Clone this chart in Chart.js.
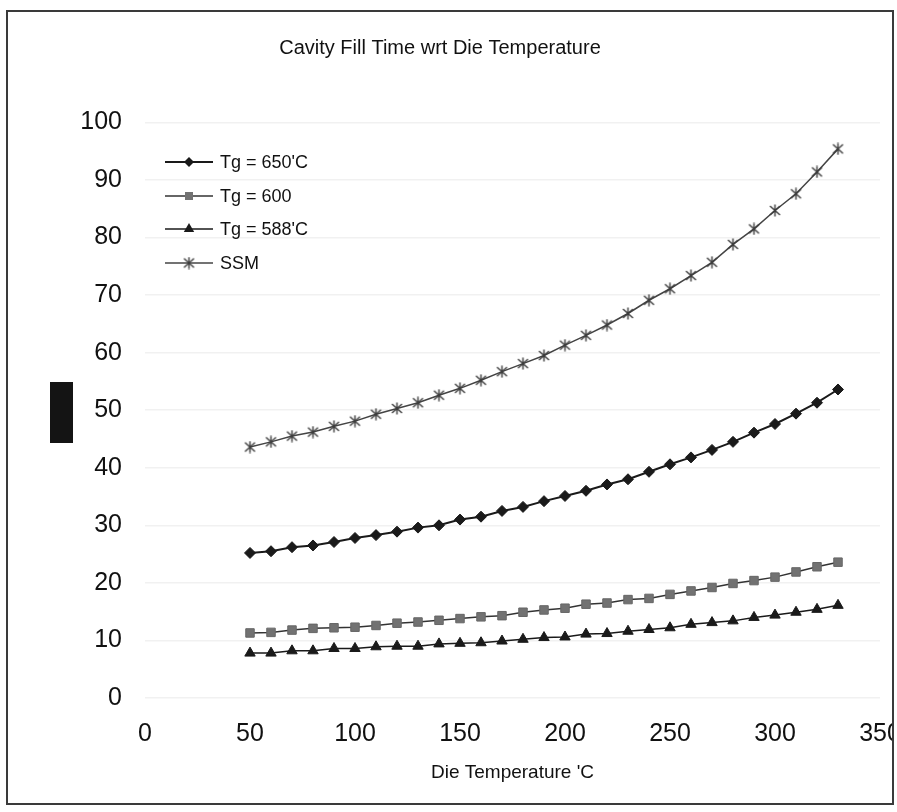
<!DOCTYPE html>
<html>
<head>
<meta charset="utf-8">
<script src="https://cdn.jsdelivr.net/npm/chart.js@4/dist/chart.umd.min.js"></script>
<style>
  html, body { margin: 0; padding: 0; background: #ffffff; }
  #wrap { position: relative; width: 897px; height: 812px; overflow: hidden; }
  #frame { position: absolute; left: 6px; top: 10px; width: 888px; height: 795px; border: 2px solid #3a3a3a; box-sizing: border-box; }
  #c { position: absolute; left: 0; top: 0; }
  #blk { position: absolute; left: 50px; top: 382px; width: 23px; height: 61px; background: #141414; }
</style>
</head>
<body>
<div id="wrap">
  <canvas id="c" width="893" height="812"></canvas>
  <div id="frame"></div>
  <div id="blk"></div>
</div>
<script>
// ---- data ----
const dieTemps = [50, 60, 70, 80, 90, 100, 110, 120, 130, 140, 150, 160, 170, 180, 190, 200, 210, 220, 230, 240, 250, 260, 270, 280, 290, 300, 310, 320, 330];
const tg650 = [25.2, 25.5, 26.2, 26.5, 27.1, 27.8, 28.3, 28.9, 29.6, 30.0, 31.0, 31.5, 32.5, 33.2, 34.2, 35.1, 36.0, 37.1, 38.0, 39.3, 40.6, 41.8, 43.1, 44.5, 46.1, 47.6, 49.4, 51.3, 53.6];
const tg600 = [11.3, 11.4, 11.8, 12.1, 12.2, 12.3, 12.6, 13.0, 13.2, 13.5, 13.8, 14.1, 14.3, 14.9, 15.3, 15.6, 16.3, 16.5, 17.1, 17.3, 18.0, 18.6, 19.2, 19.9, 20.4, 21.0, 21.9, 22.8, 23.6];
const tg588 = [7.8, 7.8, 8.2, 8.2, 8.6, 8.6, 8.9, 9.0, 9.0, 9.4, 9.5, 9.6, 9.9, 10.2, 10.5, 10.6, 11.1, 11.2, 11.6, 11.9, 12.2, 12.8, 13.1, 13.4, 14.0, 14.4, 14.9, 15.4, 16.1];
const ssm = [43.6, 44.5, 45.5, 46.2, 47.2, 48.1, 49.3, 50.3, 51.3, 52.6, 53.8, 55.2, 56.7, 58.1, 59.5, 61.3, 63.0, 64.8, 66.8, 69.1, 71.1, 73.4, 75.7, 78.8, 81.5, 84.7, 87.6, 91.4, 95.4];
const seriesLabels = ["Tg = 650'C", "Tg = 600", "Tg = 588'C", "SSM"];
const chartTitle = "Cavity Fill Time wrt Die Temperature";
const xTitle = "Die Temperature 'C";
const xRange = [0, 350];
const yRange = [0, 100];

// ---- SSM marker: Excel-style star (X with a vertical bar) ----
function makeStar(color) {
  const cv = document.createElement('canvas');
  cv.width = 13; cv.height = 13;
  const g = cv.getContext('2d');
  g.strokeStyle = color; g.lineWidth = 1.4;
  g.beginPath();
  g.moveTo(1.5, 2); g.lineTo(11.5, 11);
  g.moveTo(11.5, 2); g.lineTo(1.5, 11);
  g.moveTo(6.5, 0.5); g.lineTo(6.5, 12.5);
  g.stroke();
  return cv;
}
const starImg = makeStar('#3c3c3c');

const pts = arr => dieTemps.map((x, i) => ({ x: x, y: arr[i] }));

const datasets = [
  { label: seriesLabels[0], data: pts(tg650), borderColor: '#1a1a1a', backgroundColor: '#1a1a1a',
    borderWidth: 2, pointStyle: 'rectRot', pointRadius: 5.5, pointBorderWidth: 1, pointBorderColor: '#1a1a1a', pointBackgroundColor: '#1a1a1a' },
  { label: seriesLabels[1], data: pts(tg600), borderColor: '#333333', backgroundColor: '#707070',
    borderWidth: 1.5, pointStyle: 'rect', pointRadius: 6, pointBorderWidth: 1, pointBorderColor: '#666666', pointBackgroundColor: '#727272' },
  { label: seriesLabels[2], data: pts(tg588), borderColor: '#1a1a1a', backgroundColor: '#1a1a1a',
    borderWidth: 1.5, pointStyle: 'triangle', pointRadius: 6, pointBorderWidth: 1, pointBorderColor: '#1a1a1a', pointBackgroundColor: '#1a1a1a' },
  { label: seriesLabels[3], data: pts(ssm), borderColor: '#444444', backgroundColor: '#444444',
    borderWidth: 1.5, pointStyle: starImg, pointRadius: 6 }
];

// ---- legend drawn inside the plot area, Excel-style ----
const insideLegend = {
  id: 'insideLegend',
  afterDraw(chart) {
    const ctx = chart.ctx;
    const x0 = 165, x1 = 213, xm = 189, tx = 220;
    const rows = [162, 196, 229, 263];
    ctx.save();
    chart.data.datasets.forEach((ds, i) => {
      const y = rows[i];
      ctx.strokeStyle = ds.borderColor; ctx.lineWidth = ds.borderWidth;
      ctx.beginPath(); ctx.moveTo(x0, y); ctx.lineTo(x1, y); ctx.stroke();
      ctx.fillStyle = ds.pointBackgroundColor || ds.backgroundColor;
      ctx.beginPath();
      if (i === 0) {
        const r = 5; ctx.moveTo(xm, y - r); ctx.lineTo(xm + r, y); ctx.lineTo(xm, y + r); ctx.lineTo(xm - r, y); ctx.closePath(); ctx.fill();
      } else if (i === 1) {
        ctx.fillRect(xm - 4, y - 4, 8, 8);
      } else if (i === 2) {
        const r = 6; ctx.moveTo(xm, y - r); ctx.lineTo(xm + r * 0.866, y + r / 2); ctx.lineTo(xm - r * 0.866, y + r / 2); ctx.closePath(); ctx.fill();
      } else {
        ctx.drawImage(starImg, xm - 6.5, y - 6.5);
      }
      ctx.fillStyle = '#111111';
      ctx.font = '18px "Liberation Sans", Arial, sans-serif';
      ctx.textBaseline = 'middle'; ctx.textAlign = 'left';
      ctx.fillText(ds.label, tx, y + 1);
    });
    ctx.restore();
  }
};

new Chart(document.getElementById('c'), {
  type: 'line',
  data: { datasets: datasets },
  plugins: [insideLegend],
  options: {
    responsive: false,
    animation: false,
    layout: { padding: { left: 0, right: 13, top: 0, bottom: 0 } },
    elements: { line: { tension: 0 } },
    plugins: {
      legend: { display: false },
      tooltip: { enabled: false },
      title: {
        display: true, text: chartTitle, color: '#111111',
        font: { family: '"Liberation Sans", Arial, sans-serif', size: 20, weight: 'normal', lineHeight: 1.2 },
        padding: { top: 36, bottom: 62.4 }
      }
    },
    scales: {
      x: {
        type: 'linear', min: xRange[0], max: xRange[1],
        ticks: { stepSize: 50, color: '#111111', padding: 21, maxRotation: 0,
                 font: { family: '"Liberation Sans", Arial, sans-serif', size: 25 } },
        grid: { display: false, drawTicks: false },
        border: { display: false },
        title: { display: true, text: xTitle, color: '#111111', padding: { top: 0, bottom: 27.6 },
                 font: { family: '"Liberation Sans", Arial, sans-serif', size: 19, lineHeight: 1.2 } },
        afterFit(scale) { scale.height = 114; scale.paddingRight = 0; scale.paddingLeft = 0; }
      },
      y: {
        type: 'linear', min: yRange[0], max: yRange[1],
        ticks: { stepSize: 10, color: '#111111', padding: 23,
                 font: { family: '"Liberation Sans", Arial, sans-serif', size: 25 } },
        grid: { color: '#f1f1f1', lineWidth: 1.5, drawTicks: false },
        border: { display: false },
        afterFit(scale) { scale.width = 145; }
      }
    }
  }
});
</script>
</body>
</html>
